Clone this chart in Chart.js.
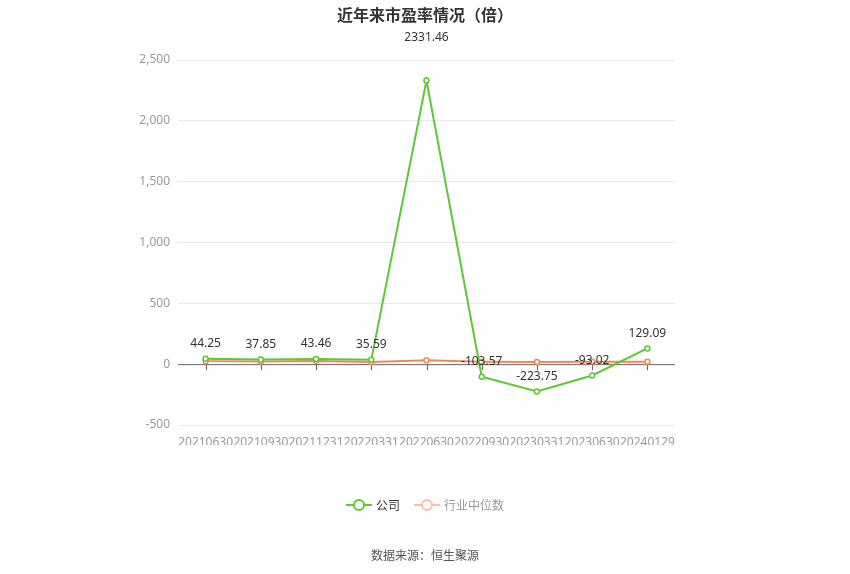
<!DOCTYPE html>
<html>
<head>
<meta charset="utf-8">
<script src="https://cdn.jsdelivr.net/npm/chart.js@4"></script>
<style>
  html, body { margin: 0; padding: 0; background: #fff; }
  #wrap { position: relative; width: 850px; height: 574px; font-family: "Noto Sans CJK SC", "Noto Sans", sans-serif; }
  #title { position: absolute; top: 2px; left: 0; width: 850px; text-align: center; font-size: 16px; font-weight: bold; color: #333; }
  #legend { position: absolute; top: 496px; left: 0; width: 850px; display: flex; justify-content: center; gap: 14px; font-size: 12px; }
  .item { display: flex; align-items: center; gap: 4px; }
  .mark { position: relative; width: 26px; height: 12px; }
  .mark .ln { position: absolute; left: 0; top: 5px; width: 26px; height: 2px; }
  .mark .dot { position: absolute; left: 7px; top: 0; width: 8px; height: 8px; border-radius: 50%; border: 2px solid; background: #fff; }
  #source { position: absolute; top: 546px; left: 0; width: 850px; text-align: center; font-size: 12px; color: #555; }
  canvas { position: absolute; top: 0; left: 0; }
</style>
</head>
<body>
<div id="wrap">
  <canvas id="peChart" width="850" height="574"></canvas>
  <div id="title">近年来市盈率情况（倍）</div>
  <div id="legend">
    <div class="item"><div class="mark"><div class="ln" style="background:#5cc832"></div><div class="dot" style="border-color:#5cc832"></div></div><span style="color:#333">公司</span></div>
    <div class="item"><div class="mark"><div class="ln" style="background:#fbbfa6"></div><div class="dot" style="border-color:#fbbfa6"></div></div><span style="color:#999">行业中位数</span></div>
  </div>
  <div id="source">数据来源：恒生聚源</div>
</div>
<script>
const categories = ['20210630', '20210930', '20211231', '20220331', '20220630', '20220930', '20230331', '20230630', '20240129'];
const companyPE = [44.25, 37.85, 43.46, 35.59, 2331.46, -103.57, -223.75, -93.02, 129.09];
const industryPE = [25, 22, 26, 18, 32, 20, 18, 20, 20];
const yTicks = [-500, 0, 500, 1000, 1500, 2000, 2500];

const green = '#5cc832';
const orange = '#f2875a';

// zero line with small ticks at each category, like the original
const zeroAxis = {
  id: 'zeroAxis',
  beforeDatasetsDraw(chart) {
    const { ctx, chartArea, scales: { x, y } } = chart;
    const y0 = y.getPixelForValue(0);
    ctx.save();
    ctx.strokeStyle = '#666';
    ctx.lineWidth = 1;
    ctx.beginPath();
    ctx.moveTo(chartArea.left, y0 + 0.5);
    ctx.lineTo(chartArea.right, y0 + 0.5);
    categories.forEach((c, i) => {
      const px = Math.round(x.getPixelForValue(i)) + 0.5;
      ctx.moveTo(px, y0);
      ctx.lineTo(px, y0 + 6);
    });
    ctx.stroke();
    ctx.restore();
  }
};

// value labels above company points
const valueLabels = {
  id: 'valueLabels',
  afterDatasetsDraw(chart) {
    const { ctx } = chart;
    const meta = chart.getDatasetMeta(0);
    const maxVal = Math.max(...companyPE);
    ctx.save();
    ctx.font = '12px "Noto Sans", sans-serif';
    ctx.fillStyle = '#333';
    ctx.textAlign = 'center';
    ctx.textBaseline = 'middle';
    meta.data.forEach((pt, i) => {
      const v = companyPE[i];
      const off = v === maxVal ? 43 : 15;
      ctx.fillText(v.toFixed(2), pt.x, pt.y - off);
    });
    ctx.restore();
  }
};

new Chart(document.getElementById('peChart'), {
  type: 'line',
  data: {
    labels: categories,
    datasets: [
      {
        label: '公司',
        data: companyPE,
        borderColor: green,
        backgroundColor: '#fff',
        borderWidth: 2,
        pointRadius: 2.5,
        pointBorderWidth: 1.5,
        pointBackgroundColor: '#fff',
        pointBorderColor: green,
        tension: 0
      },
      {
        label: '行业中位数',
        data: industryPE,
        borderColor: orange,
        backgroundColor: '#fff',
        borderWidth: 2,
        pointRadius: 2.5,
        pointBorderWidth: 1.5,
        pointBackgroundColor: '#fff',
        pointBorderColor: orange,
        tension: 0
      }
    ]
  },
  options: {
    responsive: false,
    animation: false,
    layout: { padding: { left: 130, right: 175, top: 60, bottom: 129 } },
    scales: {
      x: {
        offset: true,
        grid: { display: false },
        border: { display: false },
        ticks: {
          autoSkip: false,
          maxRotation: 0,
          minRotation: 0,
          padding: 2,
          color: '#999',
          font: { size: 12, family: '"Noto Sans", sans-serif' }
        },
        afterFit(scale) { scale.height = 20; }
      },
      y: {
        min: -500,
        max: 2500,
        afterBuildTicks(scale) { scale.ticks = yTicks.map(v => ({ value: v })); },
        grid: { color: '#e6e9f0', drawTicks: false },
        border: { display: false },
        ticks: {
          padding: 8,
          color: '#999',
          font: { size: 12, family: '"Noto Sans", sans-serif' },
          callback: (v) => v.toLocaleString('en-US')
        },
        afterFit(scale) { scale.width = 48; }
      }
    },
    plugins: {
      legend: { display: false },
      tooltip: { enabled: false }
    }
  },
  plugins: [zeroAxis, valueLabels]
});
</script>
</body>
</html>
